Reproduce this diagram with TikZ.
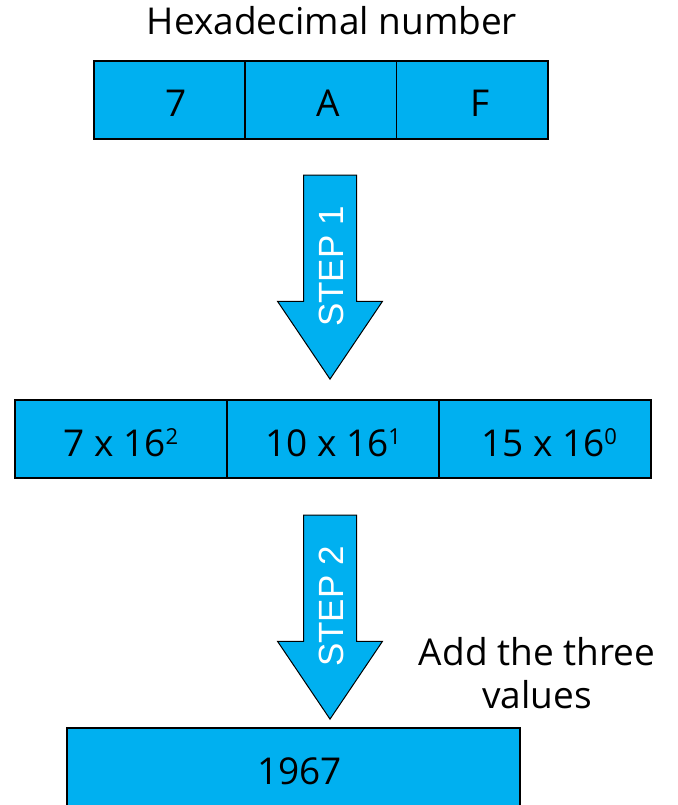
\documentclass[tikz,border=0pt]{standalone}
\usepackage{fontspec}
\setmainfont{Open Sans}
\newfontfamily\stepfont{Liberation Sans}
\usetikzlibrary{positioning, shapes.arrows}
\definecolor{hexblue}{HTML}{00B0F0}

% small raised exponent
\newcommand{\hexpow}[1]{\raisebox{11.5pt}{\fontsize{22}{22}\selectfont #1}}

\tikzset{
    bigtext/.style={font=\fontsize{37}{43}\selectfont},
    cell/.style={draw=black, fill=hexblue, line width=1.5pt, minimum height=78pt,
        inner sep=0pt, outer sep=0pt, text height=34pt, text depth=0pt, bigtext},
    steparrow/.style={single arrow, draw=black, fill=hexblue, line width=1pt,
        rotate=90, shape border rotate=180, anchor=tip, minimum height=204pt,
        single arrow head extend=26pt, single arrow tip angle=68,
        text height=26pt, text depth=0pt, inner ysep=13pt, inner xsep=0pt,
        text=white, font=\stepfont\fontsize{35}{40}\selectfont}
}

\begin{document}
\begin{tikzpicture}
    \useasboundingbox (0,0) rectangle (677pt,-805pt);
    \node[bigtext, anchor=base] (title) at (332pt,-35pt) {Hexadecimal number};
    % hexadecimal digits
    \node[cell, minimum width=151.3pt] (hex7) at (169.5pt,-100pt) {\hspace*{14pt}7};
    \node[cell, minimum width=151.3pt, right=0pt of hex7] (hexA) {\hspace*{14pt}A};
    \node[cell, minimum width=151.3pt, right=0pt of hexA] (hexF) {\hspace*{16pt}F};
    \node[steparrow] (step1) at (330pt,-380pt) {STEP 1\hspace*{18pt}};
    % place values
    \node[cell, minimum width=212pt] (pow2) at (121pt,-439pt) {7 x 16\hexpow{2}};
    \node[cell, minimum width=212pt, right=0pt of pow2] (pow1) {10 x 16\hexpow{1}};
    \node[cell, minimum width=212pt, right=0pt of pow1] (pow0) {\hspace*{8pt}15 x 16\hexpow{0}};
    \node[steparrow] (step2) at (330pt,-720pt) {STEP 2\hspace*{18pt}};
    \node[bigtext, align=center] (addnote) at (537pt,-673pt) {Add the three\\values};
    \node[cell, minimum width=453pt] (result) at (293.5pt,-767pt) {\hspace*{12pt}1967};
\end{tikzpicture}
\end{document}
